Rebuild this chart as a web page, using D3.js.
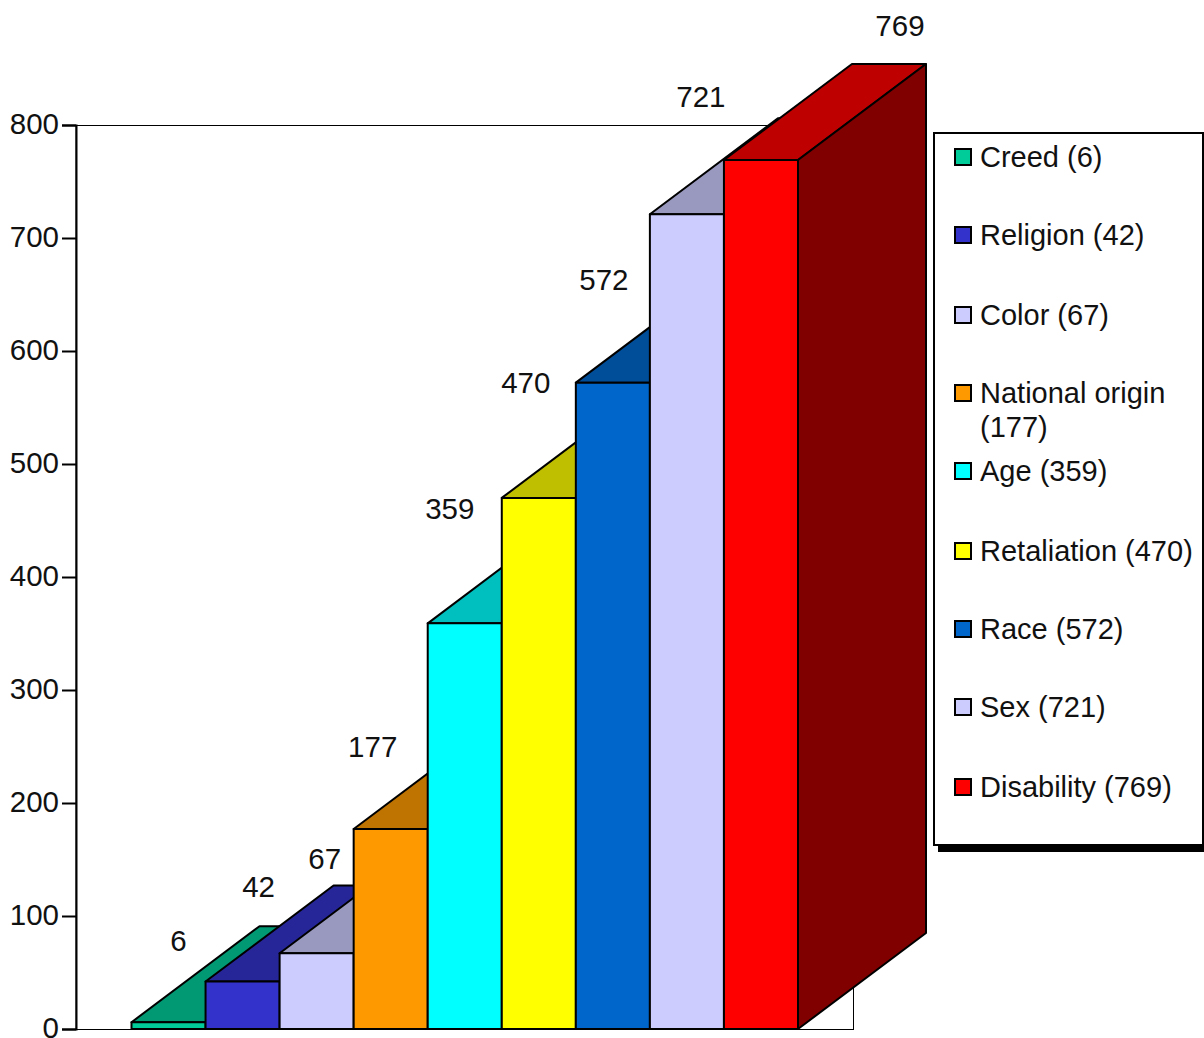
<!DOCTYPE html>
<html>
<head>
<meta charset="utf-8">
<script src="https://cdn.jsdelivr.net/npm/d3@7/dist/d3.min.js"></script>
<style>
  html, body { margin: 0; padding: 0; background: #fff; overflow: hidden; }
  svg { display: block; }
  text { font-family: "Liberation Sans", Arial, sans-serif; font-size: 29.5px; fill: #111; }
  .legend-label { font-size: 29px; }
</style>
</head>
<body>
<svg id="chart" width="1204" height="1038"></svg>
<script>
// Charge counts by basis of discrimination, ascending
const bases  = ["Creed", "Religion", "Color", "National origin", "Age", "Retaliation", "Race", "Sex", "Disability"];
const counts = [6, 42, 67, 177, 359, 470, 572, 721, 769];
const fills  = ["#00CC99", "#3333CC", "#CCCCFF", "#FF9900", "#00FFFF", "#FFFF00", "#0066CC", "#CCCCFF", "#FF0000"];
const yTicks = [0, 100, 200, 300, 400, 500, 600, 700, 800];

// Hand-placed value labels: shift from the bar's centre and height above its top
const labelShiftX = [10, 16, 8, -18, -15, -13, -9, 14, 139];
const labelRaise  = [71, 85, 84, 72, 104, 105, 93, 107, 124];

// Legend rows: swatch centre line and wrapped label lines
const legendRowY = [157, 235, 315, 393, 471, 551, 629, 707, 787];
const legendLines = bases.map((b, i) =>
  b === "National origin" ? [b, `(${counts[i]})`] : [`${b} (${counts[i]})`]);

const svg = d3.select("#chart");
const plot = { left: 76, right: 853.5, top: 125, bottom: 1029 };
const depth = { x: 128, y: -96 };

const x = d3.scaleBand().domain(bases).range([131.5, 798]).padding(0);
const y = d3.scaleLinear().domain([0, 800]).range([plot.bottom, plot.top]);

const shade = (c, k) => {
  const o = d3.rgb(c);
  return d3.rgb(o.r * k, o.g * k, o.b * k).formatHex();
};
const pts = a => a.map(p => p.join(",")).join(" ");

// Plot frame
svg.append("rect")
  .attr("x", plot.left).attr("y", plot.top + 0.5)
  .attr("width", plot.right - plot.left).attr("height", plot.bottom - plot.top)
  .attr("fill", "#fff").attr("stroke", "#000").attr("stroke-width", 1);

// Value axis
const axis = svg.append("g")
  .attr("transform", `translate(${plot.left},0)`)
  .call(d3.axisLeft(y).tickValues(yTicks).tickSize(14).tickPadding(0).tickFormat(d3.format("d")));
axis.select(".domain").attr("stroke", "#000").attr("stroke-width", 2);
axis.selectAll(".tick line").attr("stroke", "#000").attr("stroke-width", 2);
axis.selectAll(".tick text").attr("font-size", null).attr("font-family", null).attr("fill", null)
  .attr("x", -17).attr("dy", "0.3em");

// Extruded bars, painted left to right so nearer faces overlap
const bars = svg.append("g").selectAll("g").data(bases).join("g")
  .attr("stroke", "#000").attr("stroke-width", 2).attr("stroke-linejoin", "round");

bars.each(function (b, i) {
  const g = d3.select(this);
  const x0 = x(b), x1 = x0 + x.bandwidth();
  const yt = y(counts[i]), yb = y(0);
  g.append("polygon").attr("fill", shade(fills[i], 0.75))
    .attr("points", pts([[x0, yt], [x1, yt], [x1 + depth.x, yt + depth.y], [x0 + depth.x, yt + depth.y]]));
  g.append("polygon").attr("fill", shade(fills[i], 0.5))
    .attr("points", pts([[x1, yt], [x1 + depth.x, yt + depth.y], [x1 + depth.x, yb + depth.y], [x1, yb]]));
  g.append("rect").attr("fill", fills[i])
    .attr("x", x0).attr("y", yt).attr("width", x1 - x0).attr("height", yb - yt);
});

// Value labels
svg.append("g").selectAll("text").data(counts).join("text")
  .attr("text-anchor", "middle")
  .attr("x", (d, i) => x(bases[i]) + x.bandwidth() / 2 + labelShiftX[i])
  .attr("y", (d, i) => y(d) - labelRaise[i])
  .text(d => d);

// Legend box with its drop shadow
const legend = svg.append("g");
legend.append("rect").attr("x", 938).attr("y", 137).attr("width", 270).attr("height", 715).attr("fill", "#000");
legend.append("rect").attr("x", 934).attr("y", 133).attr("width", 269).attr("height", 712)
  .attr("fill", "#fff").attr("stroke", "#000").attr("stroke-width", 2);

const rows = legend.selectAll("g.row").data(bases).join("g").attr("class", "row")
  .attr("transform", (d, i) => `translate(0,${legendRowY[i]})`);
rows.append("rect").attr("x", 955).attr("y", -8).attr("width", 16).attr("height", 16)
  .attr("fill", (d, i) => fills[i]).attr("stroke", "#000").attr("stroke-width", 2);
rows.each(function (d, i) {
  d3.select(this).selectAll("text").data(legendLines[i]).join("text")
    .attr("class", "legend-label")
    .attr("x", 980).attr("y", (l, k) => 10 + k * 34).text(l => l);
});
</script>
</body>
</html>
